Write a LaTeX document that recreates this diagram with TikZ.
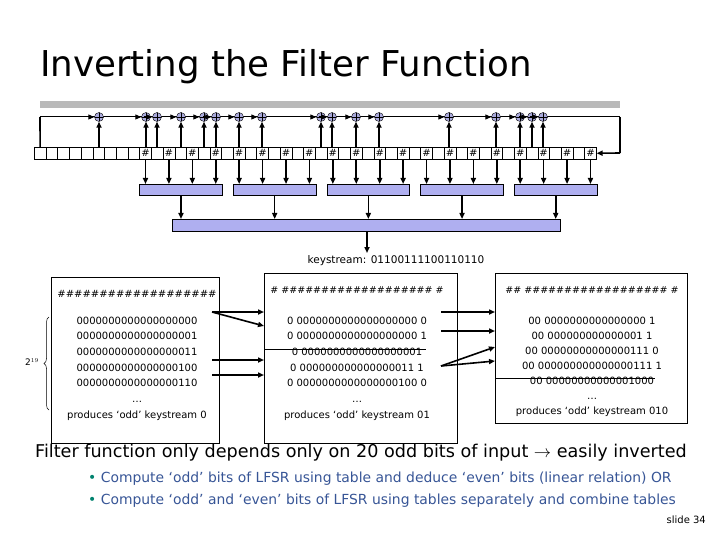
\documentclass[tikz,border=0pt]{standalone}
\usepackage{fontspec}
\setmainfont{DejaVu Sans}
\usetikzlibrary{arrows.meta,decorations.pathreplacing}
\definecolor{fbox}{RGB}{175,175,240}
\definecolor{xorc}{RGB}{170,170,220}
\definecolor{btxt}{RGB}{55,85,150}
\definecolor{bdot}{RGB}{0,130,110}
\begin{document}
\begin{tikzpicture}[x=1pt,y=-1pt,
  arr/.style={-{Triangle[length=6pt,width=5pt]},line width=1.6pt},
  ln/.style={line width=1.6pt},
  cell/.style={draw,line width=0.5pt,minimum width=11.71pt,minimum height=12pt,inner sep=0pt,anchor=north west},
  fbx/.style={draw,line width=0.7pt,fill=fbox,anchor=north west,inner sep=0pt},
  xr/.style={circle,draw,fill=xorc,minimum size=9pt,inner sep=0pt,path picture={\draw (path picture bounding box.north)--(path picture bounding box.south) (path picture bounding box.west)--(path picture bounding box.east);}},
  tb/.style={draw,line width=0.8pt,anchor=north west,inner sep=0pt},
  tt/.style={font=\fontsize{10}{12}\selectfont,inner sep=0pt}]
\useasboundingbox (0,0) rectangle (720,540);
\node[anchor=base west,inner sep=0pt,font=\fontsize{35.6}{40}\selectfont] (title) at (40,77) {Inverting the Filter Function};
\fill[gray!55] (40,101) rectangle (620,108);
% register
\foreach \i in {0,...,47}{
  \pgfmathsetmacro{\xx}{34+11.71*\i}
  \node[cell] (c\i) at (\xx,147) {};
}
\foreach \i in {9,11,...,47}{
  \node[inner sep=0pt,font=\fontsize{10}{10}\selectfont\itshape] at (c\i.center) {\#};
}
% feedback
\coordinate (fb0) at (40,117);
\coordinate (fb1) at (620,117);
\coordinate (fb2) at (620,153);
\draw[ln] (c0.north) -- (fb0);
\draw[line width=1pt] (fb0) -- (fb1);
\draw[ln] (fb1) -- (fb2);
\draw[arr] (fb2) -- (c47.east);
\foreach \x [count=\k] in {99,146,157,181,204,216,239,262,321,332,356,379,449,496,520,532,543}{
  \node[xr] (x\k) at (\x,117) {};
  \coordinate (t\k) at (\x,147);
  \draw[arr] (t\k) -- (x\k.south);
  \draw[arr,line width=1pt] ([xshift=-8pt]x\k.west) -- (x\k.west);
}
% filter boxes
\foreach \b in {0,...,4}{
  \pgfmathtruncatemacro{\ci}{9+8*\b}
  \pgfmathsetmacro{\bx}{34+11.71*\ci}
  \node[fbx,minimum width=82.5pt,minimum height=11pt] (f\b) at (\bx,184) {};
  \foreach \j in {0,...,3}{
    \pgfmathtruncatemacro{\cj}{\ci+2*\j}
    \draw[arr] (c\cj.south) -- (c\cj.south |- f\b.north);
  }
}
\node[fbx,minimum width=388pt,minimum height=12pt] (big) at (172,219) {};
\foreach \b in {0,...,4}{ \draw[arr] (f\b.south) -- (f\b.south |- big.north); }
\coordinate (ko) at (367,253);
\draw[arr] (big.south -| ko) -- (ko);
\node[tt,anchor=base,font=\fontsize{10.5}{12}\selectfont] (ks) at (396,263) {keystream: 01100111100110110};
% tables
\node[tb,minimum width=168pt,minimum height=166pt] (b1) at (51,277) {};
\node[tb,minimum width=193pt,minimum height=170pt] (b2) at (264,273) {};
\node[tb,minimum width=192pt,minimum height=150pt] (b3) at (495,273) {};
\node[tt,anchor=base] (h1) at (137,297) {\#\#\#\#\#\#\#\#\#\#\#\#\#\#\#\#\#\#\#};
\node[tt,anchor=base,font=\fontsize{9.5}{12}\selectfont] (h2) at (357,293) {\# \#\#\#\#\#\#\#\#\#\#\#\#\#\#\#\#\#\#\# \#};
\node[tt,anchor=base,font=\fontsize{9.5}{12}\selectfont] (h3) at (592,293) {\#\# \#\#\#\#\#\#\#\#\#\#\#\#\#\#\#\#\#\# \#};
\foreach \t [count=\k] in {0000000000000000000,0000000000000000001,0000000000000000011,0000000000000000100,0000000000000000110,\dots,produces ‘odd’ keystream 0}{
  \pgfmathsetmacro{\yy}{324+15.7*(\k-1)}
  \node[tt,anchor=base] (r1\k) at (137,\yy) {\t};
}
\foreach \t [count=\k] in {0 0000000000000000000 0,0 0000000000000000000 1,0 0000000000000000001,0 000000000000000011 1,0 0000000000000000100 0,\dots,produces ‘odd’ keystream 01}{
  \pgfmathsetmacro{\yy}{324+15.7*(\k-1)}
  \node[tt,anchor=base] (r2\k) at (357,\yy) {\t};
}
\foreach \t [count=\k] in {00 0000000000000000 1,00 000000000000001 1,00 00000000000000111 0,00 000000000000000111 1,00 00000000000001000,\dots,produces ‘odd’ keystream 010}{
  \pgfmathsetmacro{\yy}{324+15*(\k-1)}
  \node[tt,anchor=base] (r3\k) at (592,\yy) {\t};
}
\draw[line width=0.7pt] (b2.west |- 0,349) -- (426,349);
\draw[line width=0.7pt] (b3.west |- 0,378) -- (655,378);
% arrows between tables
\coordinate (a1) at (212,312); \coordinate (a2) at (212,360); \coordinate (a3) at (212,375);
\coordinate (e1) at (441,312); \coordinate (e2) at (441,331); \coordinate (e3) at (441,366);
\draw[arr] (a1) -- (b2.west |- a1);
\draw[arr] (a1) -- ([yshift=-14pt]b2.west |- a1);
\draw[arr] (a2) -- (b2.west |- a2);
\draw[arr] (a3) -- (b2.west |- a3);
\draw[arr] (e1) -- (b3.west |- e1);
\draw[arr] (e2) -- (b3.west |- e2);
\draw[arr] (e3) -- ([yshift=19pt]b3.west |- e3);
\draw[arr] (e3) -- ([yshift=5pt]b3.west |- e3);
\draw[decorate,decoration={brace,amplitude=5pt},line width=0.5pt] (49,410) -- (49,317);
\node[tt,font=\fontsize{9}{10}\selectfont] (two) at (32,362) {2$^{19}$};
% bottom text
\node[anchor=base west,inner sep=0pt,font=\fontsize{17.6}{20}\selectfont] (m1) at (35,457) {Filter function only depends only on 20 odd bits of input $\rightarrow$ easily inverted};
\node[anchor=base west,inner sep=0pt,font=\fontsize{13.9}{16}\selectfont] (m2) at (88,482) {\textcolor{bdot}{•} \textcolor{btxt}{Compute ‘odd’ bits of LFSR using table and deduce ‘even’ bits (linear relation) OR}};
\node[anchor=base west,inner sep=0pt,font=\fontsize{13.9}{16}\selectfont] (m3) at (88,504) {\textcolor{bdot}{•} \textcolor{btxt}{Compute ‘odd’ and ‘even’ bits of LFSR using tables separately and combine tables}};
\node[anchor=base east,inner sep=0pt,font=\fontsize{10}{12}\selectfont] (sl) at (706,523) {slide 34};
\end{tikzpicture}
\end{document}
